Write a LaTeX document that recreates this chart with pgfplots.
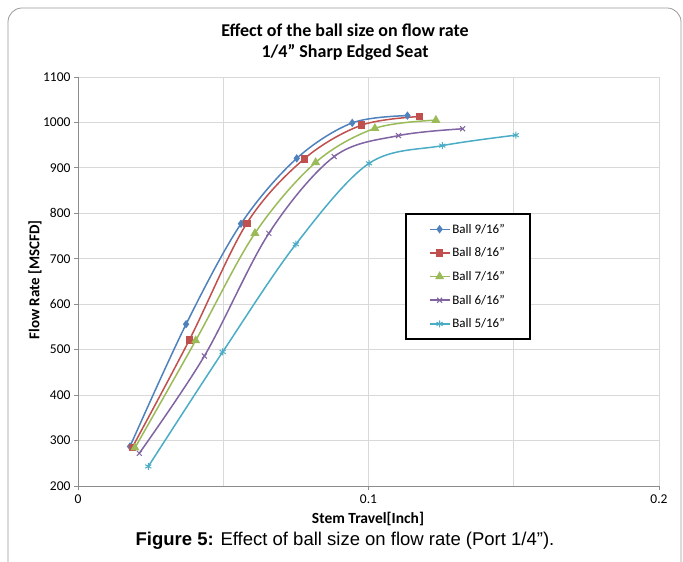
\documentclass[border=0pt]{standalone}
\usepackage{pgfplots}
\pgfplotsset{compat=1.18}
\usepackage{fontspec}
\setmainfont{Carlito}
\newfontfamily\arialfont{Liberation Sans}
\definecolor{SerBlue}{HTML}{4F81BD}
\definecolor{SerRed}{HTML}{C0504D}
\definecolor{SerGreen}{HTML}{9BBB59}
\definecolor{SerPurple}{HTML}{8064A2}
\definecolor{SerCyan}{HTML}{4BACC6}
\definecolor{GridGray}{HTML}{D9D9D9}
\begin{document}
\begin{tikzpicture}
\path[use as bounding box] (0,0) rectangle (683bp,562bp);
\draw[black!40, line width=0.8bp, rounded corners=14bp] (8bp,-30bp) rectangle (681bp,554bp);

\node[font=\fontsize{18bp}{21bp}\selectfont\bfseries] at (345bp,532bp) {Effect of the ball size on flow rate};
\node[font=\fontsize{18bp}{21bp}\selectfont\bfseries] at (345bp,510bp) {1/4” Sharp Edged Seat};

\begin{axis}[
  at={(78bp,76bp)}, anchor=south west,
  scale only axis, width=581bp, height=409bp,
  xmin=0, xmax=0.2, ymin=200, ymax=1100,
  xtick={0,0.1,0.2}, xticklabels={0,0.1,0.2},
  minor xtick={0.05,0.15},
  ytick={200,300,...,1100},
  axis x line*=bottom, axis y line*=left,
  axis line style={black!45, line width=0.8bp},
  tick style={black!45, line width=0.8bp},
  tick align=outside, major tick length=4bp, minor tick length=0bp,
  grid=both, grid style={GridGray, line width=0.8bp},
  minor grid style={GridGray, line width=0.8bp},
  ticklabel style={font=\fontsize{13.5bp}{15bp}\selectfont},
  /pgf/number format/assume math mode=true,
  /pgf/number format/1000 sep={},
  xticklabel style={yshift=-1bp},
  legend cell align=left,
  legend style={at={(0.563,0.667)}, anchor=north west,
    draw=black, line width=1.5bp, inner xsep=23bp, inner ysep=8bp,
    row sep=9bp,
    font=\fontsize{13bp}{15bp}\selectfont,
    /tikz/every even column/.append style={column sep=0bp}},
  legend image code/.code={
    \draw[mark repeat=2,mark phase=2,#1] plot coordinates {(0bp,0bp) (10bp,0bp) (20bp,0bp)};},
  every axis plot/.append style={line width=1.5bp, smooth, tension=0.55},
]
\addplot[SerBlue, mark=diamond*, mark size=3bp, mark options={solid}] coordinates {
(0.0179,287)(0.0372,556)(0.0561,777)(0.0753,921)(0.0944,999)(0.1134,1015)};
\addlegendentry{Ball 9/16”}
\addplot[SerRed, mark=square*, mark size=3bp] coordinates {
(0.0187,285)(0.0383,521)(0.0581,778)(0.0779,920)(0.0976,994)(0.1175,1013)};
\addlegendentry{Ball 8/16”}
\addplot[SerGreen, mark=triangle*, mark size=3.8bp] coordinates {
(0.0196,284)(0.0405,520)(0.0609,756)(0.0818,912)(0.1022,987)(0.1232,1005)};
\addlegendentry{Ball 7/16”}
\addplot[SerPurple, mark=x, mark size=3.5bp, mark options={line width=1bp}] coordinates {
(0.0211,272)(0.0435,486)(0.0657,756)(0.0882,925)(0.1103,971)(0.1324,986)};
\addlegendentry{Ball 6/16”}
\addplot[SerCyan, mark=asterisk, mark size=3.5bp, mark options={line width=1bp}] coordinates {
(0.0242,243)(0.0498,495)(0.0750,732)(0.1002,910)(0.1254,949)(0.1507,972)};
\addlegendentry{Ball 5/16”}
\end{axis}

\node[rotate=90, font=\fontsize{15bp}{17bp}\selectfont\bfseries] at (35bp,282bp) {Flow Rate [MSCFD]};
\node[font=\fontsize{15.5bp}{18bp}\selectfont\bfseries] at (368bp,43bp) {Stem Travel[Inch]};
\node[font=\arialfont\fontsize{18.5bp}{21bp}\selectfont] at (345bp,21bp) {\textbf{Figure 5:} Effect of ball size on flow rate (Port 1/4”).};
\end{tikzpicture}
\end{document}
